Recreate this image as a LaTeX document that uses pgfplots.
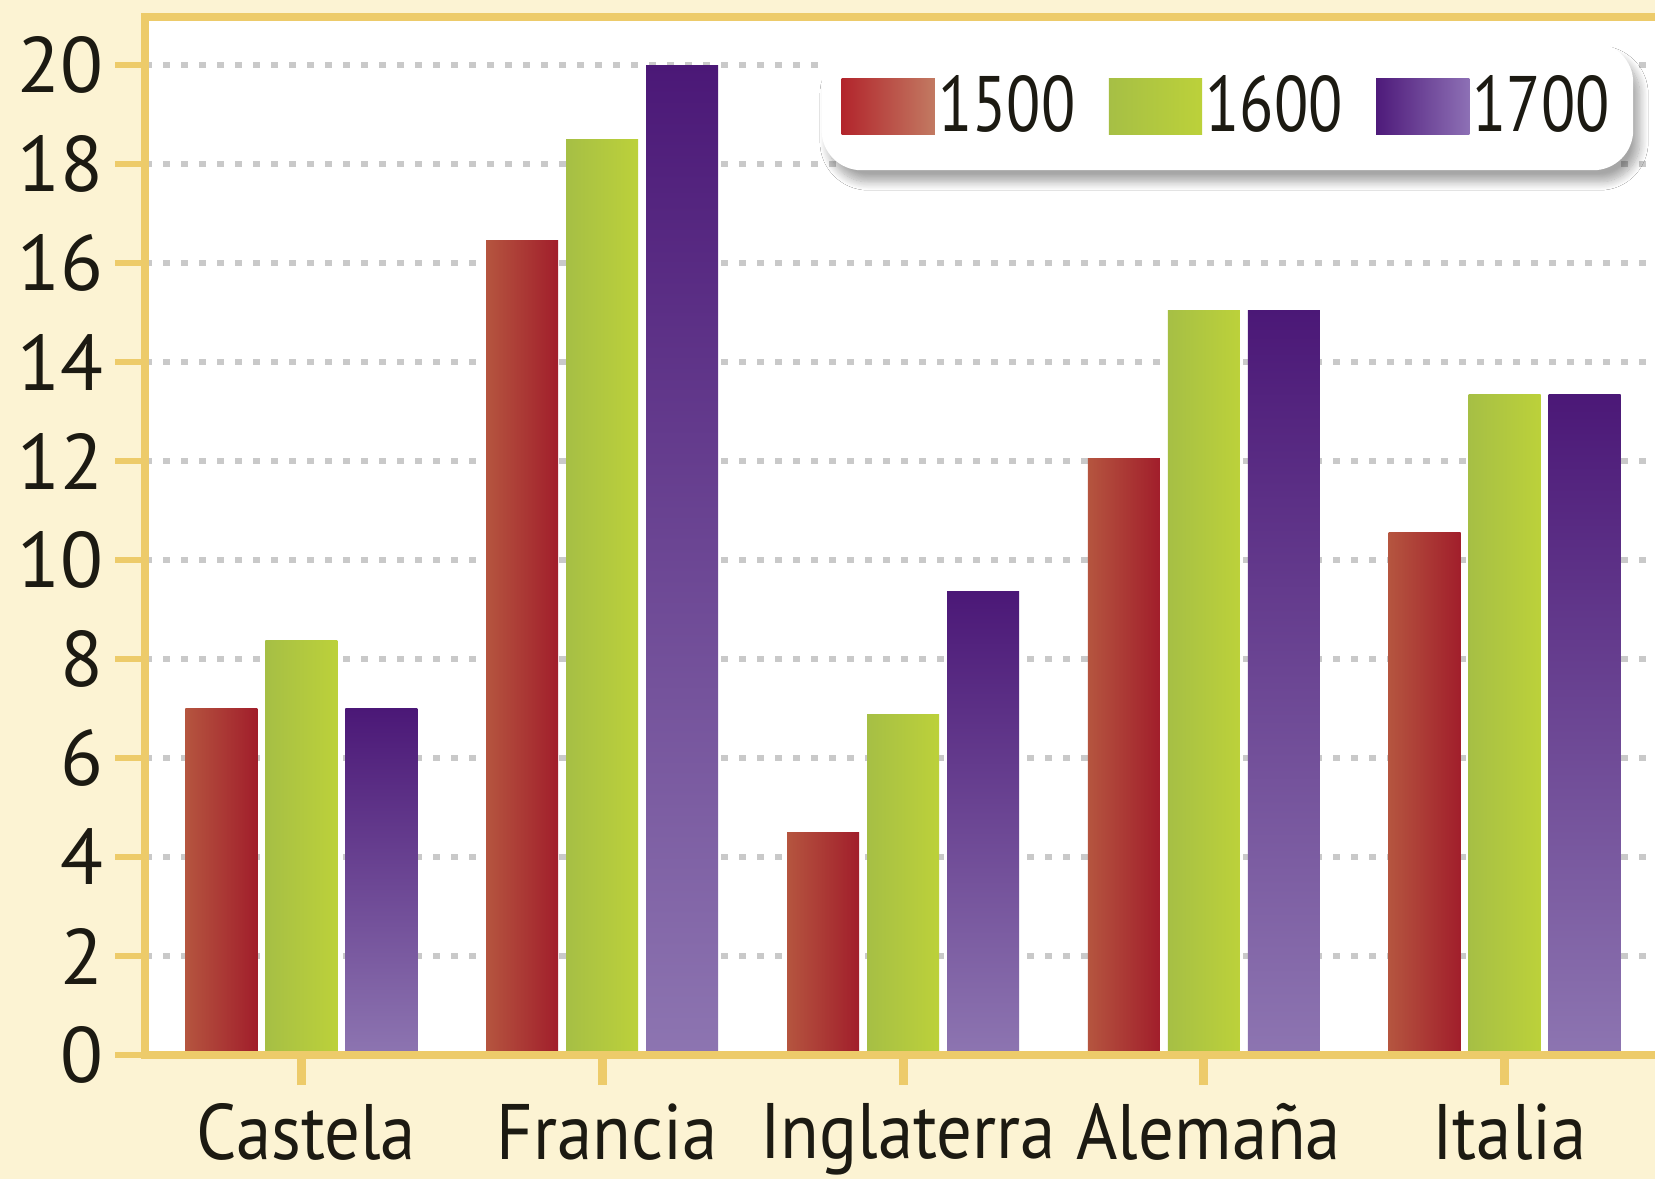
\documentclass[border=0pt]{standalone}
\usepackage{fontspec}
\setmainfont{PT Sans}
\newfontfamily\xlabfont{PT Sans}[FakeStretch=0.9]
\newfontfamily\legfont{PT Sans}[FakeStretch=0.8]
\usepackage{pgfplots}
\pgfplotsset{compat=1.18}
\usetikzlibrary{shadows,shadows.blur,backgrounds}

\definecolor{bgcream}{HTML}{FCF3D3}
\definecolor{gold}{HTML}{EDCB6A}
\definecolor{gridgray}{HTML}{C9C9C9}
\definecolor{txt}{HTML}{1C1A12}
% bar gradients
\definecolor{redL}{HTML}{B5553F}
\definecolor{redR}{HTML}{A11E2B}
\definecolor{grnL}{HTML}{A6BF45}
\definecolor{grnR}{HTML}{BCD13A}
\definecolor{purT}{HTML}{4B1877}
\definecolor{purB}{HTML}{8D75B1}
% legend swatches
\definecolor{lredL}{HTML}{B2252C}
\definecolor{lredR}{HTML}{C27A62}
\definecolor{lpurL}{HTML}{4E1A7A}
\definecolor{lpurR}{HTML}{8D70B5}

\makeatletter
\tikzset{no shadow/.code={\let\tikz@preactions\pgfutil@empty}}
\makeatother
\tikzset{swatch/.style={no shadow, sharp corners, draw=none}}

\newcommand{\labfont}{\fontsize{23.6pt}{28pt}\selectfont}

% one plot per bar so each bar gets its own gradient
\pgfplotsset{
    barbase/.style={ybar, bar width=21.6pt, draw=none, forget plot},
    s1500/.style={barbase, bar shift=-24pt, left color=redL, right color=redR},
    s1600/.style={barbase, bar shift=0pt, left color=grnL, right color=grnR},
    s1700/.style={barbase, bar shift=24pt, top color=purT, bottom color=purB},
}

\begin{document}
\begin{tikzpicture}
\begin{axis}[
    name=ax,
    at={(0,0)}, anchor=south west,
    scale only axis,
    width=453pt, height=311.4pt,
    xmin=-0.52, xmax=4.5,
    ymin=0, ymax=20.97,
    axis background/.style={fill=white},
    axis line style={draw=none},
    xtick={0,1,2,3,4},
    xticklabels={Castela, Francia, Inglaterra, Alemaña, Italia},
    ytick={0,2,...,20},
    tick pos=left,
    tick align=outside,
    major tick length=9pt,
    xtick style={gold, line width=2.7pt},
    ytick style={gold, line width=1.8pt},
    ymajorgrids,
    major grid style={gridgray, line width=1.6pt, dash pattern=on 2.1pt off 3.3pt},
    /pgf/number format/assume math mode=true,
    tick label style={font=\labfont, text=txt},
    xticklabel style={font=\labfont\xlabfont, yshift=-2pt, xshift=1.5pt},
    legend style={
        at={(0.986,0.976)}, anchor=north east,
        draw=none, fill=white,
        rounded corners=12pt,
        blur shadow={shadow xshift=2pt, shadow yshift=-3.5pt, shadow blur radius=2.5pt, shadow blur steps=12, shadow opacity=35},
        legend columns=3,
        font=\labfont\legfont, text=txt,
        inner xsep=6pt, inner ysep=9pt,
        nodes={inner sep=1pt},
        /tikz/every even column/.append style={column sep=9pt},
    },
]
\addlegendimage{legend image code/.code={\fill[swatch, left color=lredL, right color=lredR] (2pt,-8.4pt) rectangle (30pt,8.4pt);}}
\addlegendentry{1500}
\addlegendimage{legend image code/.code={\fill[swatch, left color=grnL, right color=grnR] (2pt,-8.4pt) rectangle (30pt,8.4pt);}}
\addlegendentry{1600}
\addlegendimage{legend image code/.code={\fill[swatch, left color=lpurL, right color=lpurR] (0pt,-8.4pt) rectangle (28pt,8.4pt);}}
\addlegendentry{1700}
% 1500
\addplot[s1500] coordinates {(0,7.0)};
\addplot[s1500] coordinates {(1,16.45)};
\addplot[s1500] coordinates {(2,4.5)};
\addplot[s1500] coordinates {(3,12.05)};
\addplot[s1500] coordinates {(4,10.55)};
% 1600
\addplot[s1600] coordinates {(0,8.38)};
\addplot[s1600] coordinates {(1,18.5)};
\addplot[s1600] coordinates {(2,6.88)};
\addplot[s1600] coordinates {(3,15.05)};
\addplot[s1600] coordinates {(4,13.35)};
% 1700
\addplot[s1700] coordinates {(0,7.0)};
\addplot[s1700] coordinates {(1,20.0)};
\addplot[s1700] coordinates {(2,9.37)};
\addplot[s1700] coordinates {(3,15.05)};
\addplot[s1700] coordinates {(4,13.35)};
\end{axis}
\draw[gold, line width=2.4pt] (ax.north east) -- (ax.north west) -- (ax.south west) -- (ax.south east);
\begin{scope}[on background layer]
\fill[bgcream] ([shift={(-43.5pt,-37.2pt)}]ax.south west) rectangle ([shift={(0pt,5.1pt)}]ax.north east);
\end{scope}
\pgfresetboundingbox
\useasboundingbox ([shift={(-43.5pt,-37.2pt)}]ax.south west) rectangle ([shift={(0pt,5.1pt)}]ax.north east);
\end{tikzpicture}
\end{document}
